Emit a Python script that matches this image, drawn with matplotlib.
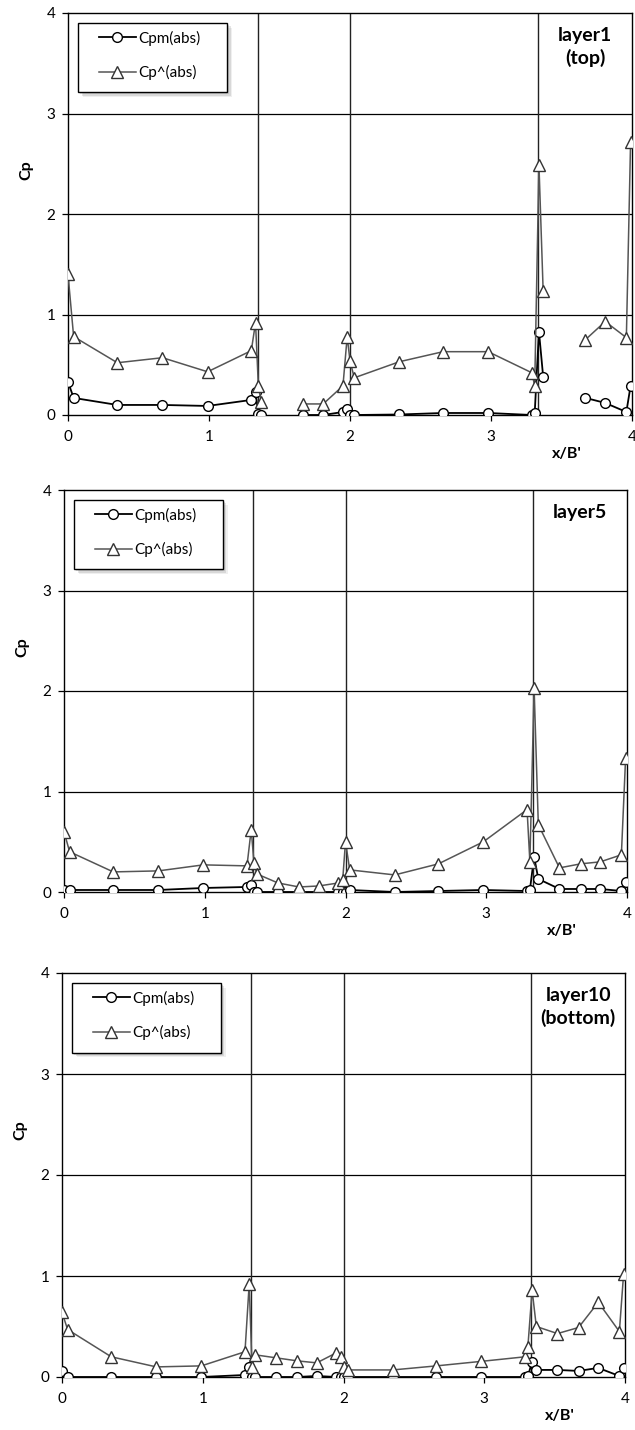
import numpy as np
import matplotlib
matplotlib.use("Agg")
import matplotlib.pyplot as plt
from matplotlib.patches import Rectangle

plt.rcParams['font.family'] = ['Lato', 'DejaVu Sans']

nan = np.nan

# tap positions along the perimeter (x/B')
x = [0.0, 0.04, 0.35, 0.67, 0.99, 1.30, 1.33, 1.35, 1.37, 1.52, 1.67, 1.81, 1.95, 1.98,
     2.00, 2.03, 2.35, 2.66, 2.98, 3.29, 3.31, 3.34, 3.37, 3.52, 3.67, 3.81, 3.96, 3.99]

# building corners (vertical lines)
corners = [1.345, 2.0, 3.33]

# layer 1 (top)
cpm_1 = [0.33, 0.17, 0.10, 0.10, 0.09, 0.15, 0.23, 0.01, 0.0, nan, 0.0, 0.0, 0.03, 0.06,
         0.0, 0.0, 0.005, 0.02, 0.02, 0.0, 0.02, 0.83, 0.38, nan, 0.17, 0.12, 0.03, 0.29]
cpp_1 = [1.40, 0.78, 0.52, 0.57, 0.43, 0.64, 0.92, 0.29, 0.13, nan, 0.11, 0.11, 0.29, 0.78,
         0.54, 0.37, 0.53, 0.63, 0.63, 0.42, 0.29, 2.49, 1.23, nan, 0.75, 0.93, 0.77, 2.72]

# layer 5
cpm_5 = [0.02, 0.02, 0.02, 0.02, 0.04, 0.05, 0.07, 0.0, 0.0, 0.0, 0.0, 0.0, 0.0, 0.0,
         0.0, 0.02, 0.0, 0.01, 0.02, 0.01, 0.02, 0.35, 0.13, 0.03, 0.03, 0.03, 0.01, 0.10]
cpp_5 = [0.60, 0.40, 0.20, 0.21, 0.27, 0.26, 0.62, 0.29, 0.18, 0.09, 0.05, 0.06, 0.09, 0.12,
         0.50, 0.22, 0.17, 0.28, 0.50, 0.82, 0.30, 2.03, 0.67, 0.24, 0.28, 0.30, 0.37, 1.33]

# layer 10 (bottom)
cpm_10 = [0.06, 0.0, 0.0, 0.0, 0.0, 0.02, 0.10, 0.0, 0.0, 0.0, 0.0, 0.01, 0.0, 0.0,
          0.0, 0.0, 0.0, 0.0, 0.0, 0.0, 0.01, 0.15, 0.07, 0.07, 0.06, 0.09, 0.01, 0.09]
cpp_10 = [0.64, 0.47, 0.20, 0.10, 0.11, 0.25, 0.92, 0.10, 0.22, 0.19, 0.16, 0.14, 0.24, 0.20,
          0.10, 0.07, 0.07, 0.11, 0.155, 0.20, 0.30, 0.86, 0.50, 0.43, 0.49, 0.74, 0.45, 1.02]

panels = [
    ("layer1\n(top)", cpm_1, cpp_1, [68, 13, 632, 415]),
    ("layer5", cpm_5, cpp_5, [64, 490, 627, 892]),
    ("layer10\n(bottom)", cpm_10, cpp_10, [62, 973, 625, 1377]),
]

W, H = 635, 1430
fig = plt.figure(figsize=(W / 100, H / 100), dpi=100)

for title, cpm, cpp, (l, t, r, b) in panels:
    ax = fig.add_axes([l / W, 1 - b / H, (r - l) / W, (b - t) / H])

    # grid
    for yy in [1, 2, 3]:
        ax.axhline(yy, color='black', lw=0.9, zorder=1)
    for xx in corners:
        ax.axvline(xx, color='#222222', lw=1.0, zorder=1)

    ax.plot(x, cpm, color='black', lw=1.3, marker='o', ms=7,
            mfc='white', mec='black', mew=1.0, label='Cpm(abs)', zorder=3)
    ax.plot(x, cpp, color='#555555', lw=1.1, marker='^', ms=8.5,
            mfc='white', mec='#333333', mew=1.0, label='Cp^(abs)', zorder=4)

    ax.set_xlim(0, 4)
    ax.set_ylim(0, 4)
    ax.set_xticks([0, 1, 2, 3, 4])
    ax.set_yticks([0, 1, 2, 3, 4])
    ax.tick_params(direction='out', length=4, width=0.9, labelsize=11, colors='black')
    ax.tick_params(axis='x', pad=6.5)
    ax.tick_params(axis='y', pad=5)
    for s in ax.spines.values():
        s.set_linewidth(1.0)
        s.set_color('black')

    ax.set_ylabel('Cp', fontsize=11.5, fontweight='bold')
    ax.yaxis.set_label_coords(-0.062, 0.61)
    ax.text(0.885, -0.097, "x/B'", transform=ax.transAxes, ha='center', va='center',
            fontsize=11.5, fontweight='bold')
    ax.text(0.917, 0.965, title, transform=ax.transAxes, ha='center', va='top',
            fontsize=14, fontweight='bold', linespacing=1.3)

    # legend box with a soft shadow
    bx, by, bw, bh = 0.018, 0.803, 0.264, 0.173
    for k, a in [(3, 0.25), (5, 0.2), (7, 0.12)]:
        dx, dy = k / (r - l), k / (b - t)
        ax.add_patch(Rectangle((bx + dx * 0.7, by - dy * 0.7), bw, bh, transform=ax.transAxes,
                               facecolor='#808080', edgecolor='none', alpha=a, zorder=5))
    ax.add_patch(Rectangle((bx, by), bw, bh, transform=ax.transAxes,
                           facecolor='white', edgecolor='black', lw=1.0, zorder=6))
    leg = ax.legend(loc='upper left', bbox_to_anchor=(0.055, 0.956), fontsize=11,
                    frameon=False, handlelength=2.4, labelspacing=1.25, borderpad=0,
                    handletextpad=0.15, borderaxespad=0)
    leg.set_zorder(7)

fig.savefig('out.png', dpi=100)
